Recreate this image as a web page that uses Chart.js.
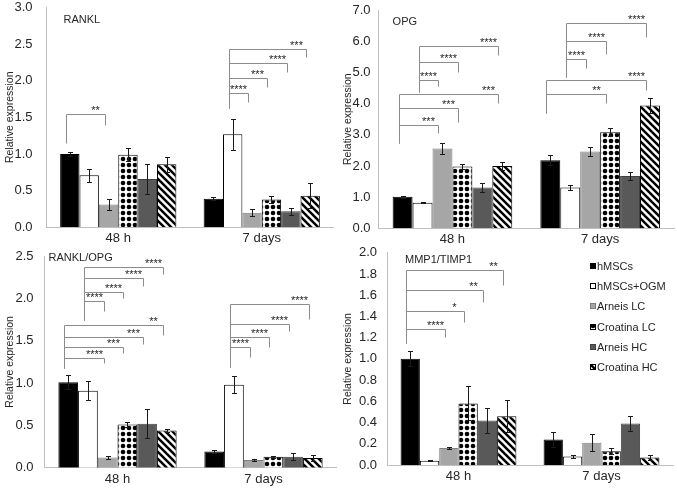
<!DOCTYPE html>
<html>
<head>
<meta charset="utf-8">
<script src="https://cdn.jsdelivr.net/npm/chart.js@4.4.0/dist/chart.umd.min.js"></script>
<style>
  html, body { margin: 0; padding: 0; background: #fff; }
  #wrap { position: relative; width: 677px; height: 489px; overflow: hidden; }
  canvas { position: absolute; }
</style>
</head>
<body>
<div id="wrap">
  <canvas id="c-rankl"></canvas>
  <canvas id="c-opg"></canvas>
  <canvas id="c-ratio"></canvas>
  <canvas id="c-mmp"></canvas>
</div>
<script>
const groups = ["48 h", "7 days"];
const series = ["hMSCs", "hMSCs+OGM", "Arneis LC", "Croatina LC", "Arneis HC", "Croatina HC"];

// RANKL
const rankl48 = [1.00, 0.71, 0.31, 0.99, 0.66, 0.86];
const rankl48Err = [0.03, 0.09, 0.07, 0.09, 0.20, 0.10];
const rankl7d = [0.39, 1.27, 0.20, 0.38, 0.22, 0.43];
const rankl7dErr = [0.02, 0.21, 0.05, 0.05, 0.05, 0.17];
// [group, from, to, leg start, bracket top, right leg end, label]
const ranklSig = [
  [0, 0, 2, 1.15, 1.54, 1.40, "**"],
  [1, 1, 2, 1.62, 1.83, 1.71, "****"],
  [1, 1, 3, 1.62, 2.03, 1.91, "***"],
  [1, 1, 4, 1.62, 2.24, 2.12, "****"],
  [1, 1, 5, 1.62, 2.43, 2.32, "***"]
];

// OPG
const opg48 = [1.01, 0.82, 2.56, 1.98, 1.31, 2.00];
const opg48Err = [0.04, 0.01, 0.17, 0.07, 0.15, 0.13];
const opg7d = [2.18, 1.31, 2.46, 3.08, 1.68, 3.94];
const opg7dErr = [0.16, 0.09, 0.15, 0.13, 0.12, 0.25];
const opgSig = [
  [0, 0, 2, 2.75, 3.31, 3.05, "***"],
  [0, 0, 3, 2.75, 3.85, 3.40, "***"],
  [0, 0, 5, 2.75, 4.31, 4.03, "***"],
  [0, 1, 2, 4.38, 4.75, 4.56, "****"],
  [0, 1, 3, 4.38, 5.32, 5.02, "****"],
  [0, 1, 5, 4.38, 5.84, 5.56, "****"],
  [1, 0, 3, 3.69, 4.30, 4.01, "**"],
  [1, 0, 5, 3.69, 4.75, 4.43, "****"],
  [1, 1, 2, 4.84, 5.43, 5.13, "****"],
  [1, 1, 3, 4.84, 6.00, 5.58, "****"],
  [1, 1, 5, 4.84, 6.57, 6.12, "****"]
];

// RANKL/OPG
const ratio48 = [1.01, 0.91, 0.12, 0.51, 0.52, 0.44];
const ratio48Err = [0.08, 0.11, 0.02, 0.03, 0.17, 0.02];
const ratio7d = [0.19, 0.98, 0.09, 0.13, 0.13, 0.115];
const ratio7dErr = [0.02, 0.10, 0.01, 0.01, 0.04, 0.03];
const ratioSig = [
  [0, 0, 2, 1.18, 1.30, 1.24, "****"],
  [0, 0, 3, 1.18, 1.43, 1.35, "***"],
  [0, 0, 4, 1.18, 1.54, 1.46, "***"],
  [0, 0, 5, 1.18, 1.69, 1.57, "**"],
  [0, 1, 2, 1.75, 1.97, 1.85, "****"],
  [0, 1, 3, 1.75, 2.08, 2.00, "****"],
  [0, 1, 4, 1.75, 2.24, 2.14, "****"],
  [0, 1, 5, 1.75, 2.37, 2.29, "****"],
  [1, 1, 2, 1.19, 1.43, 1.31, "****"],
  [1, 1, 3, 1.19, 1.54, 1.43, "****"],
  [1, 1, 4, 1.19, 1.70, 1.61, "****"],
  [1, 1, 5, 1.19, 1.93, 1.76, "****"]
];

// MMP1/TIMP1
const mmp48 = [1.00, 0.04, 0.16, 0.58, 0.42, 0.46];
const mmp48Err = [0.07, 0.005, 0.005, 0.16, 0.12, 0.15];
const mmp7d = [0.24, 0.08, 0.21, 0.13, 0.39, 0.07];
const mmp7dErr = [0.07, 0.01, 0.08, 0.03, 0.07, 0.025];
const mmpSig = [
  [0, 0, 2, 1.15, 1.28, 1.21, "****"],
  [0, 0, 3, 1.15, 1.45, 1.35, "*"],
  [0, 0, 4, 1.15, 1.65, 1.54, "**"],
  [0, 0, 5, 1.15, 1.84, 1.70, "**"]
];

const FONT = '"Liberation Sans", Arial, sans-serif';
const TEXT = "#262626";
Chart.defaults.font.family = FONT;
Chart.defaults.color = TEXT;

function makePattern(size, draw) {
  const c = document.createElement("canvas");
  c.width = size;
  c.height = size;
  const g = c.getContext("2d");
  g.fillStyle = "#fff";
  g.fillRect(0, 0, size, size);
  g.fillStyle = "#000";
  g.strokeStyle = "#000";
  draw(g, size);
  return g.createPattern(c, "repeat");
}

const dots = makePattern(6, (g, s) => {
  g.beginPath();
  g.arc(s / 2, s / 2, 2.3, 0, Math.PI * 2);
  g.fill();
});
const stripes = makePattern(7, (g, s) => {
  g.lineWidth = 2.5;
  for (const k of [-s, 0, s]) {
    g.beginPath();
    g.moveTo(k - 1, -1);
    g.lineTo(k + s + 1, s + 1);
    g.stroke();
  }
});

const fills = ["#000000", "#ffffff", "#a6a6a6", dots, "#595959", stripes];
const edges = ["#000000", "#000000", "#7f7f7f", "#000000", "#404040", "#000000"];

// error bars, brackets, panel label, legend
const overlay = {
  id: "overlay",
  afterDatasetsDraw(chart, args, opts) {
    const { ctx, chartArea } = chart;
    const y = chart.scales.y;
    const px = (v) => Math.round(y.getPixelForValue(v)) + 0.5;
    ctx.save();

    ctx.strokeStyle = "#1a1a1a";
    ctx.lineWidth = 1;
    chart.data.datasets.forEach((ds, i) => {
      chart.getDatasetMeta(i).data.forEach((bar, j) => {
        const v = ds.data[j];
        const e = ds.errors[j];
        const x = Math.round(bar.x) + 0.5;
        const t = px(v + e);
        const b = px(v - e);
        ctx.beginPath();
        ctx.moveTo(x, t);
        ctx.lineTo(x, b);
        ctx.moveTo(x - 2.5, t);
        ctx.lineTo(x + 2.5, t);
        ctx.moveTo(x - 2.5, b);
        ctx.lineTo(x + 2.5, b);
        ctx.stroke();
      });
    });

    ctx.strokeStyle = "#8c8c8c";
    ctx.fillStyle = TEXT;
    ctx.font = "11px " + FONT;
    ctx.textAlign = "center";
    ctx.textBaseline = "alphabetic";
    opts.sig.forEach(([g, a, b, base, top, end, label]) => {
      const xa = Math.round(chart.getDatasetMeta(a).data[g].x - 4) + 0.5;
      const xb = Math.round(chart.getDatasetMeta(b).data[g].x - 4) + 0.5;
      const yt = px(top);
      ctx.beginPath();
      ctx.moveTo(xa, px(base));
      ctx.lineTo(xa, yt);
      ctx.lineTo(xb, yt);
      ctx.lineTo(xb, px(end));
      ctx.stroke();
      ctx.fillText(label, xb - 10, yt - 1);
    });

    ctx.textAlign = "left";
    ctx.textBaseline = "middle";
    ctx.fillText(opts.title, chartArea.left + opts.titleAt[0], chartArea.top + opts.titleAt[1]);

    if (opts.legend) {
      const x0 = Math.round(chartArea.right - 83);
      chart.data.datasets.forEach((ds, i) => {
        const cy = Math.round(chartArea.top + 13.5 + i * 20.1);
        ctx.fillStyle = ds.backgroundColor;
        ctx.fillRect(x0, cy - 3, 6, 6);
        ctx.strokeStyle = ds.borderColor;
        ctx.strokeRect(x0 + 0.5, cy - 2.5, 5, 5);
        ctx.fillStyle = TEXT;
        ctx.fillText(ds.label, x0 + 7, cy + 0.5);
      });
    }
    ctx.restore();
  }
};

const panels = [
  { id: "c-rankl", title: "RANKL", m48: rankl48, e48: rankl48Err, m7: rankl7d, e7: rankl7dErr, sig: ranklSig,
    max: 3, step: 0.5, box: [0, 0, 338, 250], area: [46.5, 7.3, 333.5, 227.3], tickGap: 14, titleAt: [17, 13] },
  { id: "c-opg", title: "OPG", m48: opg48, e48: opg48Err, m7: opg7d, e7: opg7dErr, sig: opgSig,
    max: 7, step: 1, box: [338, 0, 339, 250], area: [378.6, 10, 674, 228.3], tickGap: 8, titleAt: [14, 12] },
  { id: "c-ratio", title: "RANKL/OPG", m48: ratio48, e48: ratio48Err, m7: ratio7d, e7: ratio7dErr, sig: ratioSig,
    max: 2.5, step: 0.5, box: [0, 245, 338, 244], area: [44.5, 256, 336.5, 467.7], tickGap: 11, titleAt: [4, 2] },
  { id: "c-mmp", title: "MMP1/TIMP1", m48: mmp48, e48: mmp48Err, m7: mmp7d, e7: mmp7dErr, sig: mmpSig,
    max: 2, step: 0.2, box: [338, 245, 339, 244], area: [387, 252.7, 673, 465], tickGap: 10, titleAt: [18, 7], legend: true }
];

panels.forEach((p) => {
  const [bx, by, bw, bh] = p.box;
  const [left, top, right, bottom] = p.area;
  const canvas = document.getElementById(p.id);
  canvas.width = bw;
  canvas.height = bh;
  canvas.style.left = bx + "px";
  canvas.style.top = by + "px";

  const datasets = series.map((name, i) => ({
    label: name,
    data: [p.m48[i], p.m7[i]],
    errors: [p.e48[i], p.e7[i]],
    backgroundColor: fills[i],
    borderColor: edges[i],
    borderWidth: 1,
    categoryPercentage: 0.81,
    barPercentage: 1
  }));

  new Chart(canvas, {
    type: "bar",
    data: { labels: groups, datasets },
    plugins: [overlay],
    options: {
      responsive: false,
      animation: false,
      devicePixelRatio: 1,
      layout: { padding: { left: 0, top: top - by, right: bx + bw - right, bottom: 0 } },
      plugins: {
        legend: { display: false },
        tooltip: { enabled: false },
        overlay: { sig: p.sig, title: p.title, titleAt: p.titleAt, legend: !!p.legend }
      },
      scales: {
        x: {
          grid: { display: false, drawTicks: true, tickLength: 5 },
          border: { color: "#bfbfbf" },
          ticks: { font: { size: 13, lineHeight: 1 }, color: TEXT, padding: 0 },
          afterFit: (s) => { s.height = by + bh - bottom; }
        },
        y: {
          min: 0,
          max: p.max,
          grid: { display: false, drawTicks: true, tickLength: p.tickGap },
          border: { color: "#bfbfbf" },
          ticks: { stepSize: p.step, padding: 0, font: { size: 13, lineHeight: 1 }, color: TEXT, callback: (v) => v.toFixed(1) },
          title: { display: true, text: "Relative expression", font: { size: 10.5 }, color: TEXT },
          afterFit: (s) => { s.width = left - bx; }
        }
      }
    }
  });
});
</script>
</body>
</html>
